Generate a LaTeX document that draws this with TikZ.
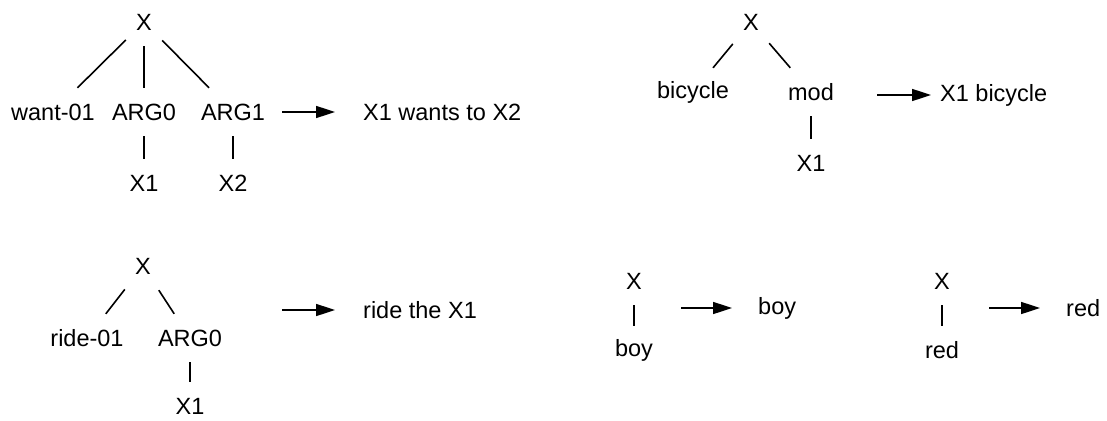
\documentclass[tikz,border=0pt]{standalone}
\usepackage{fontspec}
\setmainfont{Liberation Sans}
\usetikzlibrary{arrows.meta}

\begin{document}
\begin{tikzpicture}
[x=1pt,y=-1pt,font=\fontsize{23.5}{28}\selectfont,
nn/.style={inner sep=0pt,minimum width=36pt,minimum height=48pt},
sal/.style={anchor=west,inner sep=0pt},
rama/.style={line width=1.6pt},
flecha/.style={line width=1.6pt,-{Triangle[length=19pt,width=12pt]},shorten >=28pt}]
\useasboundingbox (0,0) rectangle (1107,420);
%%%%% TREE want-01
\node[nn] (raiz1) at (144,22) {X};
\node[nn] (want1) at (53,112) {want-01};
\node[nn] (arg01) at (144,112) {ARG0};
\node[nn] (arg11) at (233,112) {ARG1};
\node[nn] (x11) at (144,183) {X1};
\node[nn] (x21) at (233,183) {X2};
\foreach \h in {want1,arg01,arg11}
	\draw[rama] (raiz1) -- (\h);
\draw[rama] (arg01) -- (x11);
\draw[rama] (arg11) -- (x21);
\coordinate (f1) at (282,112);
\node[sal] (sal1) at (363,112) {X1 wants to X2};
\draw[flecha] (f1) -- (sal1);
%%%%% TREE bicycle
\node[nn] (raiz2) at (751,22) {X};
\node[nn] (bici2) at (693,92) {bicycle};
\node[nn] (mod2) at (811,92) {mod};
\node[nn] (x12) at (811,163) {X1};
\draw[rama] (raiz2) -- (bici2);
\draw[rama] (raiz2) -- (mod2);
\draw[rama] (mod2) -- (x12);
\coordinate (f2) at (877,95);
\node[sal] (sal2) at (940,95) {X1 bicycle};
\draw[flecha,shorten >=9pt] (f2) -- (sal2);
%%%%% TREE ride-01
\node[nn] (raiz3) at (143,266) {X};
\node[nn] (ride3) at (87,338) {ride-01};
\node[nn] (arg03) at (190,338) {ARG0};
\node[nn] (x13) at (190,406) {X1};
\draw[rama] (raiz3) -- (ride3);
\draw[rama] (raiz3) -- (arg03);
\draw[rama] (arg03) -- (x13);
\coordinate (f3) at (282,310);
\node[sal] (sal3) at (363,310) {ride the X1};
\draw[flecha] (f3) -- (sal3);
%%%%% SINGLE CONCEPTS
\foreach \w/\x [count=\k from 4] in {boy/634,red/942}
{
	\node[nn] (raiz\k) at (\x,281) {X};
	\node[nn] (hoja\k) at (\x,350) {\w};
	\draw[rama] (raiz\k) -- (hoja\k);
	\coordinate (f\k) at (\x+47,308);
	\node[sal] (sal\k) at (\x+124,308) {\w};
	\draw[flecha,shorten >=26pt] (f\k) -- (sal\k);
};
\end{tikzpicture}
\end{document}
